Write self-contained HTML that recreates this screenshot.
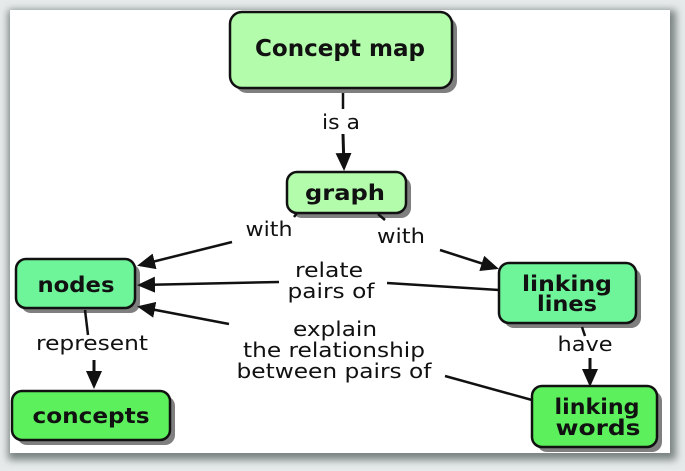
<!DOCTYPE html>
<html><head><style>
body{margin:0;width:685px;height:471px;overflow:hidden;background:#e6eaea;}
svg{display:block}
text{font-family:"DejaVu Sans","Liberation Sans",sans-serif;}
</style></head><body>
<svg width="685" height="471" viewBox="0 0 685 471">
<defs>
<filter id="sh" x="-5%" y="-5%" width="115%" height="120%"><feGaussianBlur stdDeviation="4"/></filter>
<marker id="a" markerWidth="18" markerHeight="16" refX="15" refY="8" orient="auto" markerUnits="userSpaceOnUse" viewBox="0 0 18 16">
<path d="M0,0 L18,8 L0,16 z" fill="#111"/></marker>
</defs>
<rect x="8" y="10" width="668" height="450" fill="#7a8282" filter="url(#sh)"/>
<rect x="10" y="10" width="660" height="443" fill="#fff"/>
<g fill="#7f7f7f">
<rect x="235" y="17" width="222" height="76" rx="12"/>
<rect x="292" y="177" width="119" height="41" rx="10"/>
<rect x="21" y="264" width="119" height="49" rx="10"/>
<rect x="504" y="268" width="137" height="60" rx="10"/>
<rect x="17" y="396" width="158" height="49" rx="10"/>
<rect x="537" y="391" width="125" height="61" rx="10"/>
</g>
<g stroke="#111" stroke-width="2.5">
<rect x="230" y="12" width="222" height="76" rx="12" fill="#b3fcab"/>
<rect x="287" y="172" width="119" height="41" rx="10" fill="#b3fcab"/>
<rect x="16" y="259" width="119" height="49" rx="10" fill="#6ef59a"/>
<rect x="499" y="263" width="137" height="60" rx="10" fill="#6ef59a"/>
<rect x="12" y="391" width="158" height="49" rx="10" fill="#5cf05c"/>
<rect x="532" y="386" width="125" height="61" rx="10" fill="#5cf05c"/>
</g>
<g stroke="#111" stroke-width="2.5" fill="none">
<line x1="343" y1="93" x2="343" y2="109"/>
<line x1="343" y1="134" x2="344" y2="168" stroke-width="3" marker-end="url(#a)"/>
<line x1="297" y1="213" x2="294" y2="217"/>
<line x1="232" y1="242" x2="140" y2="265" marker-end="url(#a)"/>
<line x1="378" y1="214" x2="385" y2="220"/>
<line x1="440" y1="250" x2="496" y2="268" marker-end="url(#a)"/>
<line x1="499" y1="290" x2="387" y2="283"/>
<line x1="279" y1="282" x2="140" y2="285" marker-end="url(#a)"/>
<line x1="532" y1="400" x2="445" y2="376"/>
<line x1="229" y1="324" x2="140" y2="307" marker-end="url(#a)"/>
<line x1="85" y1="310" x2="88" y2="335"/>
<line x1="94" y1="360" x2="94" y2="386" stroke-width="3" marker-end="url(#a)"/>
<line x1="582" y1="327" x2="585" y2="336"/>
<line x1="590" y1="358" x2="590" y2="384" stroke-width="3" marker-end="url(#a)"/>
</g>
<g font-weight="bold" fill="#111" text-anchor="middle" font-size="21">
<text x="340" y="56" font-size="23" textLength="170" lengthAdjust="spacingAndGlyphs">Concept map</text>
<text x="345" y="200" textLength="80" lengthAdjust="spacingAndGlyphs">graph</text>
<text x="76" y="292" textLength="77" lengthAdjust="spacingAndGlyphs">nodes</text>
<text x="567" y="291" textLength="90" lengthAdjust="spacingAndGlyphs">linking</text>
<text x="567" y="311" textLength="60" lengthAdjust="spacingAndGlyphs">lines</text>
<text x="91" y="423" textLength="117" lengthAdjust="spacingAndGlyphs">concepts</text>
<text x="597" y="414" textLength="85" lengthAdjust="spacingAndGlyphs">linking</text>
<text x="598" y="435" textLength="85" lengthAdjust="spacingAndGlyphs">words</text>
</g>
<g fill="#111" text-anchor="middle" font-size="20">
<text x="341" y="129" textLength="38" lengthAdjust="spacingAndGlyphs">is a</text>
<text x="269" y="236" textLength="47" lengthAdjust="spacingAndGlyphs">with</text>
<text x="401" y="243" textLength="48" lengthAdjust="spacingAndGlyphs">with</text>
<text x="329" y="277" textLength="68" lengthAdjust="spacingAndGlyphs">relate</text>
<text x="331" y="298" textLength="87" lengthAdjust="spacingAndGlyphs">pairs of</text>
<text x="335" y="336" textLength="84" lengthAdjust="spacingAndGlyphs">explain</text>
<text x="334" y="357" textLength="182" lengthAdjust="spacingAndGlyphs">the relationship</text>
<text x="334" y="378" textLength="195" lengthAdjust="spacingAndGlyphs">between pairs of</text>
<text x="92" y="350" textLength="112" lengthAdjust="spacingAndGlyphs">represent</text>
<text x="585" y="351" textLength="55" lengthAdjust="spacingAndGlyphs">have</text>
</g>
</svg>
</body></html>
